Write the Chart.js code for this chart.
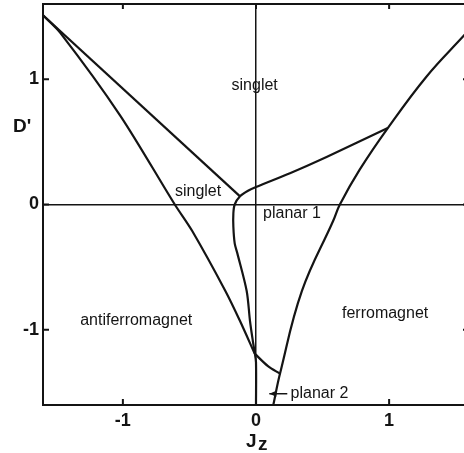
<!DOCTYPE html>
<html>
<head>
<meta charset="utf-8">
<script src="https://cdn.jsdelivr.net/npm/chart.js@4.4.1/dist/chart.umd.min.js"></script>
<style>
  html, body { margin: 0; padding: 0; background: #fff; overflow: hidden; }
  #wrap { width: 472px; height: 453px; position: relative; }
</style>
</head>
<body>
<div id="wrap"><canvas id="phase"></canvas></div>
<script>
// Phase boundaries in the (Jz, D') plane, as [Jz, D'] pairs
var singletUpper = [[-1.6, 1.51], [-0.12, 0.065]];
var antiferroEdge = [[-1.6, 1.51], [-1.47, 1.37], [-1.02, 0.71], [-0.61, 0.0],
    [-0.48, -0.21], [-0.23, -0.69], [-0.12, -0.93], [-0.01, -1.19]];
var planarEdge = [[0, -1.6], [0, -1.26], [-0.01, -1.18], [-0.025, -1.08],
    [-0.045, -0.93], [-0.07, -0.69], [-0.14, -0.39], [-0.16, -0.31],
    [-0.17, -0.18], [-0.17, -0.07], [-0.16, 0.0], [-0.12, 0.065],
    [-0.06, 0.11], [0, 0.14], [0.255, 0.25], [0.53, 0.38], [0.99, 0.61]];
var ferroEdge = [[0.13, -1.6], [0.18, -1.35], [0.345, -0.69], [0.58, -0.13],
    [0.63, 0.0], [0.78, 0.28], [0.99, 0.61], [1.28, 1.02], [1.555, 1.34], [1.6, 1.39]];
var planar2Edge = [[-0.01, -1.19], [0.09, -1.29], [0.18, -1.35]];

var axisTicks = [-1, 0, 1];

// Region names and where they sit, in data units
var regionNames = ["singlet", "singlet", "planar 1", "antiferromagnet", "ferromagnet", "planar 2"];
var regionJz = [-0.01, -0.435, 0.27, -0.9, 0.97, 0.26];
var regionD = [0.95, 0.1, -0.07, -0.93, -0.87, -1.505];

var INK = "#141414";
var FONT = "'Liberation Sans', Arial, sans-serif";

function toXY(list) {
    return list.map(function(p) { return { x: p[0], y: p[1] }; });
}

function curve(list, tension) {
    return {
        data: toXY(list),
        showLine: true,
        borderColor: INK,
        borderWidth: 2.2,
        pointRadius: 0,
        tension: tension,
        fill: false
    };
}

// Frame, inward ticks, region labels and axis titles
var decorations = {
    id: "decorations",
    afterDraw: function(chart) {
        var ctx = chart.ctx;
        var a = chart.chartArea;
        var xs = chart.scales.x, ys = chart.scales.y;
        ctx.save();
        ctx.strokeStyle = INK;
        ctx.lineWidth = 2;
        ctx.strokeRect(a.left, a.top, a.right - a.left, a.bottom - a.top);

        // short ticks pointing into the plot
        ctx.beginPath();
        axisTicks.forEach(function(v) {
            var px = xs.getPixelForValue(v), py = ys.getPixelForValue(v);
            ctx.moveTo(px, a.bottom); ctx.lineTo(px, a.bottom - 6);
            ctx.moveTo(px, a.top); ctx.lineTo(px, a.top + 5);
            ctx.moveTo(a.left, py); ctx.lineTo(a.left + 6, py);
            ctx.moveTo(a.right, py); ctx.lineTo(a.right - 6, py);
        });
        ctx.stroke();

        ctx.fillStyle = INK;
        ctx.font = "16px " + FONT;
        ctx.textBaseline = "middle";
        regionNames.forEach(function(name, i) {
            ctx.textAlign = name == "planar 2" ? "left" : "center";
            ctx.fillText(name, xs.getPixelForValue(regionJz[i]), ys.getPixelForValue(regionD[i]));
        });

        // arrow pointing at the planar 2 sliver
        var ay = ys.getPixelForValue(-1.51);
        var x0 = xs.getPixelForValue(0.235), x1 = xs.getPixelForValue(0.1);
        ctx.lineWidth = 1.5;
        ctx.beginPath();
        ctx.moveTo(x0, ay); ctx.lineTo(x1, ay);
        ctx.stroke();
        ctx.beginPath();
        ctx.moveTo(x1, ay);
        ctx.lineTo(x1 + 7, ay - 3);
        ctx.lineTo(x1 + 7, ay + 3);
        ctx.closePath();
        ctx.fill();

        // axis titles
        ctx.font = "bold 19px " + FONT;
        ctx.textAlign = "left";
        ctx.textBaseline = "alphabetic";
        ctx.fillText("D'", 13, 132);
        ctx.fillText("J", 246, 447);
        ctx.fillText("z", 258, 450);
        ctx.restore();
    }
};

function zeroLine(c) {
    return c.tick && c.tick.value === 0 ? INK : "rgba(0,0,0,0)";
}

function fixedTicks(s) {
    s.ticks = axisTicks.map(function(v) { return { value: v }; });
}

var tickFont = { family: FONT, size: 18, weight: "bold" };

new Chart(document.getElementById("phase"), {
    type: "scatter",
    data: {
        datasets: [
            curve(singletUpper, 0),
            curve(antiferroEdge, 0.3),
            curve(planarEdge, 0.3),
            curve(ferroEdge, 0.4),
            curve(planar2Edge, 0.3)
        ]
    },
    options: {
        responsive: true,
        maintainAspectRatio: false,
        animation: false,
        layout: { padding: { top: 4, right: 3, left: 0, bottom: 0 } },
        plugins: { legend: { display: false }, tooltip: { enabled: false } },
        scales: {
            x: {
                type: "linear",
                min: -1.6, max: 1.6,
                afterBuildTicks: fixedTicks,
                afterFit: function(s) {
                    s.height = 48;
                    s.paddingLeft = 0;
                    s.paddingRight = 0;
                },
                grid: { color: zeroLine, lineWidth: 1.5, drawTicks: false },
                border: { display: false },
                ticks: {
                    color: INK,
                    padding: 5,
                    font: tickFont,
                    callback: function(v) { return String(v); }
                }
            },
            y: {
                type: "linear",
                min: -1.6, max: 1.6,
                afterBuildTicks: fixedTicks,
                afterFit: function(s) {
                    s.width = 43;
                    s.paddingTop = 0;
                    s.paddingBottom = 0;
                },
                grid: { color: zeroLine, lineWidth: 1.5, drawTicks: false },
                border: { display: false },
                ticks: {
                    color: INK,
                    padding: 4,
                    font: tickFont,
                    callback: function(v) { return String(v); }
                }
            }
        }
    },
    plugins: [decorations]
});
</script>
</body>
</html>
